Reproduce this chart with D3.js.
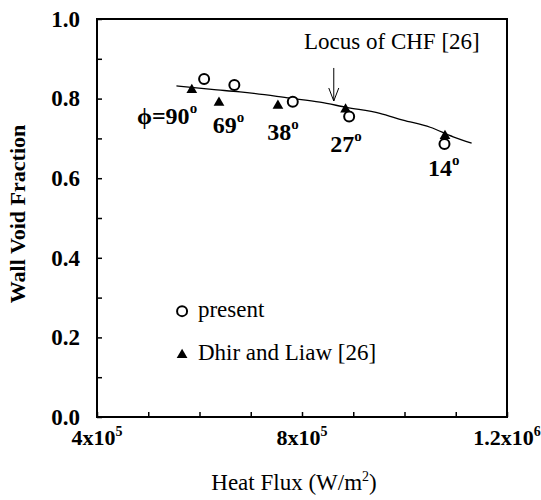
<!DOCTYPE html>
<html>
<head>
<meta charset="utf-8">
<script src="https://cdn.jsdelivr.net/npm/d3@7"></script>
<style>
  html, body { margin: 0; padding: 0; background: #fff; }
  svg { display: block; font-family: "Liberation Serif", "Times New Roman", serif; }
</style>
</head>
<body>
<svg id="chart" width="541" height="500"></svg>
<script>
// ---- data ----
const presentFlux = [6.09e5, 6.68e5, 7.82e5, 8.92e5, 1.078e6];
const presentVoid = [0.849, 0.834, 0.792, 0.755, 0.686];

const dhirFlux = [5.85e5, 6.38e5, 7.53e5, 8.85e5, 1.079e6];
const dhirVoid = [0.822, 0.790, 0.782, 0.773, 0.706];

const curveFlux = [5.55e5, 6.24e5, 6.79e5, 7.77e5, 8.35e5, 8.87e5, 9.52e5, 9.97e5, 1.05e6, 1.095e6, 1.131e6];
const curveVoid = [0.832, 0.823, 0.817, 0.801, 0.791, 0.778, 0.763, 0.746, 0.728, 0.704, 0.688];

const angleLabels = ["90", "69", "38", "27", "14"];
const anglePrefix = ["\u03D5=", "", "", "", ""];
const angleLabelFlux = [4.78e5, 6.26e5, 7.32e5, 8.55e5, 1.046e6];
const angleLabelVoid = [0.737, 0.714, 0.696, 0.666, 0.606];

const xTickValues = [4e5, 5e5, 6e5, 7e5, 8e5, 9e5, 1e6, 1.1e6, 1.2e6];
const xTickLabelValues = [4e5, 8e5, 1.2e6];
const xTickLabelBase = ["4x10", "8x10", "1.2x10"];
const xTickLabelExp = ["5", "5", "6"];

const yTickValues = [0, 0.1, 0.2, 0.3, 0.4, 0.5, 0.6, 0.7, 0.8, 0.9, 1.0];
const yTickLabels = {0: "0.0", 0.2: "0.2", 0.4: "0.4", 0.6: "0.6", 0.8: "0.8", 1: "1.0"};

const legendLabels = ["present", "Dhir and Liaw [26]"];
const locusText = "Locus of CHF [26]";
const locusArrowFlux = 8.62e5;
const locusArrowVoid = [0.877, 0.794];

// ---- scales ----
const svg = d3.select("#chart");
const x = d3.scaleLinear().domain([4e5, 1.2e6]).range([97, 507]);
const y = d3.scaleLinear().domain([0, 1]).range([417, 19]);

// ---- axes (ticks inward) ----
const xAxis = d3.axisBottom(x).tickValues(xTickValues).tickSize(-5).tickFormat("");
svg.append("g").attr("transform", `translate(0,${y(0)})`).call(xAxis)
  .call(g => g.select(".domain").remove())
  .selectAll("line").attr("stroke", "#000").attr("stroke-width", 1.5);

const yAxis = d3.axisLeft(y).tickValues(yTickValues).tickSize(-5).tickPadding(17)
  .tickFormat(d => yTickLabels[Math.round(d * 10) / 10] || "");
svg.append("g").attr("transform", `translate(${x(4e5)},0)`).call(yAxis)
  .call(g => g.select(".domain").remove())
  .call(g => g.selectAll("line").attr("stroke", "#000").attr("stroke-width", 1.5))
  .call(g => g.selectAll("text")
    .attr("font-family", "Liberation Serif, serif")
    .attr("font-size", 23).attr("font-weight", "bold").attr("fill", "#000"));

// x tick labels with superscripts
const xl = svg.append("g");
xTickLabelValues.forEach((v, i) => {
  const t = xl.append("text")
    .attr("x", x(v)).attr("y", y(0) + 28)
    .attr("text-anchor", "middle")
    .attr("font-size", 22).attr("font-weight", "bold");
  t.append("tspan").text(xTickLabelBase[i]);
  t.append("tspan").attr("font-size", 14).attr("dy", -9).text(xTickLabelExp[i]);
});

// frame
svg.append("rect")
  .attr("x", x(4e5)).attr("y", y(1))
  .attr("width", x(1.2e6) - x(4e5)).attr("height", y(0) - y(1))
  .attr("fill", "none").attr("stroke", "#000").attr("stroke-width", 2);

// axis titles
svg.append("text")
  .attr("transform", `translate(25,${(y(0) + y(1)) / 2 - 4}) rotate(-90)`)
  .attr("text-anchor", "middle")
  .attr("font-size", 22).attr("font-weight", "bold")
  .text("Wall Void Fraction");

const xt = svg.append("text")
  .attr("x", (x(4e5) + x(1.2e6)) / 2 - 8).attr("y", 490)
  .attr("text-anchor", "middle")
  .attr("font-size", 23);
xt.append("tspan").text("Heat Flux (W/m");
xt.append("tspan").attr("font-size", 14).attr("dy", -9).text("2");
xt.append("tspan").attr("dy", 9).text(")");

// curve
const curvePts = curveFlux.map((f, i) => [f, curveVoid[i]]);
svg.append("path")
  .datum(curvePts)
  .attr("d", d3.line().x(d => x(d[0])).y(d => y(d[1])).curve(d3.curveMonotoneX))
  .attr("fill", "none").attr("stroke", "#000").attr("stroke-width", 1.3);

// locus arrow
svg.append("line")
  .attr("x1", x(locusArrowFlux)).attr("x2", x(locusArrowFlux))
  .attr("y1", y(locusArrowVoid[0])).attr("y2", y(locusArrowVoid[1]))
  .attr("stroke", "#000").attr("stroke-width", 1);
svg.append("path")
  .attr("d", `M${x(locusArrowFlux) - 5},${y(locusArrowVoid[1]) - 13} L${x(locusArrowFlux)},${y(locusArrowVoid[1])} L${x(locusArrowFlux) + 5},${y(locusArrowVoid[1]) - 13}`)
  .attr("fill", "none").attr("stroke", "#000").attr("stroke-width", 1);

svg.append("text")
  .attr("x", x(8.04e5)).attr("y", y(0.925))
  .attr("font-size", 23)
  .text(locusText);

// markers
const tri = d3.symbol().type(d3.symbolTriangle).size(50);
svg.append("g").selectAll("path")
  .data(dhirFlux.map((f, i) => [f, dhirVoid[i]]))
  .join("path")
  .attr("d", tri)
  .attr("transform", d => `translate(${x(d[0])},${y(d[1])})`)
  .attr("fill", "#000");

svg.append("g").selectAll("circle")
  .data(presentFlux.map((f, i) => [f, presentVoid[i]]))
  .join("circle")
  .attr("cx", d => x(d[0])).attr("cy", d => y(d[1]))
  .attr("r", 5)
  .attr("fill", "#fff").attr("stroke", "#000").attr("stroke-width", 2);

// angle labels
angleLabels.forEach((a, i) => {
  const t = svg.append("text")
    .attr("x", x(angleLabelFlux[i])).attr("y", y(angleLabelVoid[i]))
    .attr("font-size", 24).attr("font-weight", "bold");
  t.append("tspan").text(anglePrefix[i] + a);
  t.append("tspan").attr("font-size", 15).attr("dy", -11).text("o");
});

// legend
svg.append("circle")
  .attr("cx", x(5.66e5)).attr("cy", y(0.266)).attr("r", 5)
  .attr("fill", "#fff").attr("stroke", "#000").attr("stroke-width", 2);
svg.append("path")
  .attr("d", tri)
  .attr("transform", `translate(${x(5.66e5)},${y(0.156)})`)
  .attr("fill", "#000");
svg.append("text").attr("x", x(5.97e5)).attr("y", y(0.251))
  .attr("font-size", 23).text(legendLabels[0]);
svg.append("text").attr("x", x(5.97e5)).attr("y", y(0.143))
  .attr("font-size", 23).text(legendLabels[1]);
</script>
</body>
</html>
